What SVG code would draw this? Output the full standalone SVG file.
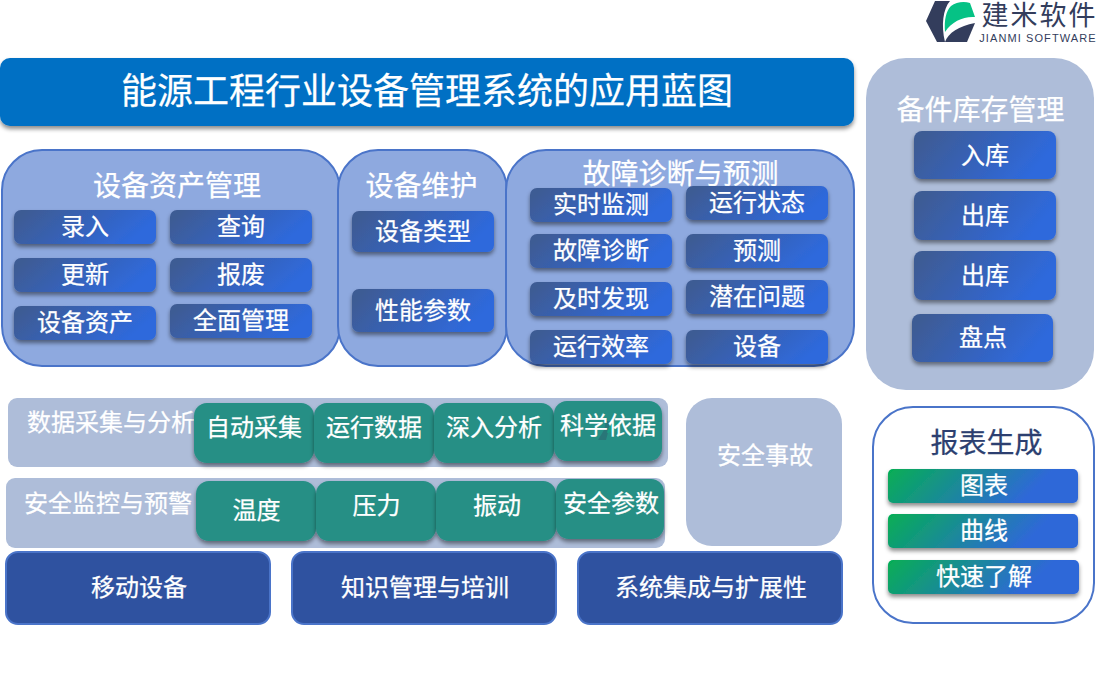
<svg xmlns="http://www.w3.org/2000/svg" width="1100" height="700" viewBox="0 0 1100 700">
<defs>
<linearGradient id="gb" x1="0" y1="0" x2="1" y2="0.28"><stop offset="0.08" stop-color="#3e5b94"/><stop offset="1" stop-color="#2e69dc"/></linearGradient>
<linearGradient id="gg" x1="0" y1="0" x2="1" y2="0.18"><stop offset="0" stop-color="#05ae54"/><stop offset="0.85" stop-color="#2f68d8"/></linearGradient>
<filter id="sh" x="-20%" y="-20%" width="140%" height="150%"><feDropShadow dx="0" dy="3" stdDeviation="2" flood-color="#000" flood-opacity="0.45"/></filter>
</defs>
<style>
text{font-family:"Liberation Serif","Noto Sans CJK SC",serif;text-anchor:middle;fill:#fff;font-size:24px;stroke:#fff;stroke-width:.25px}
.h{font-size:28px}
.p{fill:#8ea9df;stroke:#4a74c9;stroke-width:2}
.b{fill:url(#gb);filter:url(#sh)}
.g{fill:url(#gg);filter:url(#sh)}
.t{fill:#258f85;filter:url(#sh)}
.l{fill:#aebdd9}
.d{fill:#2f52a0;stroke:#4a74c9;stroke-width:2}
.lg{fill:#333d5c}
</style>
<g id="logo"><path class="lg" d="M935 1H950C943 9 941 25 945 42H937L926 21Z"/><path d="M945 32C944 20 946 11 951 6C956 2 964 1 970 3L975 17C964 16 952 21 945 32Z" fill="#05c285"/><path class="lg" d="M945 42C948 33 959 26 975 23L967 42Z"/>
<text x="1039.500" y="24.500" style="font-family:'Liberation Sans','Noto Sans CJK SC',sans-serif;font-size:27px;fill:#333d5c;stroke:none;letter-spacing:2px">建米软件</text>
<text x="1038" y="42" style="font-family:'Liberation Sans',sans-serif;font-size:11px;fill:#333d5c;stroke:none;letter-spacing:1.100px">JIANMI SOFTWARE</text></g>
<g id="title"><rect x="0" y="58" width="854" height="68" rx="10" fill="#0470c4" filter="url(#sh)"/><text x="427" y="104" style="font-size:36px">能源工程行业设备管理系统的应用蓝图</text></g>
<g id="asset"><rect class="p" x="2" y="150" width="338" height="216" rx="40"/><text class="h" x="177" y="196">设备资产管理</text>
<rect class="b" x="14" y="210" width="142" height="34" rx="7"/><text x="85" y="235">录入</text>
<rect class="b" x="170" y="210" width="142" height="34" rx="7"/><text x="241" y="235">查询</text>
<rect class="b" x="14" y="258" width="142" height="34" rx="7"/><text x="85" y="283">更新</text>
<rect class="b" x="170" y="258" width="142" height="34" rx="7"/><text x="241" y="283">报废</text>
<rect class="b" x="14" y="306" width="142" height="34" rx="7"/><text x="85" y="331">设备资产</text>
<rect class="b" x="170" y="304" width="142" height="34" rx="7"/><text x="241" y="329">全面管理</text></g>
<g id="maint"><rect class="p" x="338" y="150" width="169" height="216" rx="40"/><text class="h" x="421.500" y="196">设备维护</text>
<rect class="b" x="352" y="211" width="142" height="41" rx="7"/><text x="423" y="240">设备类型</text>
<rect class="b" x="352" y="289" width="142" height="43" rx="7"/><text x="423" y="319">性能参数</text></g>
<g id="fault"><rect class="p" x="506" y="150" width="348" height="216" rx="40"/><text class="h" x="680.500" y="184">故障诊断与预测</text>
<rect class="b" x="530" y="188" width="142" height="34" rx="7"/><text x="601" y="213">实时监测</text>
<rect class="b" x="686" y="186" width="142" height="34" rx="7"/><text x="757" y="211">运行状态</text>
<rect class="b" x="530" y="234" width="142" height="34" rx="7"/><text x="601" y="259">故障诊断</text>
<rect class="b" x="686" y="234" width="142" height="34" rx="7"/><text x="757" y="259">预测</text>
<rect class="b" x="530" y="282" width="142" height="34" rx="7"/><text x="601" y="307">及时发现</text>
<rect class="b" x="686" y="280" width="142" height="34" rx="7"/><text x="757" y="305">潜在问题</text>
<rect class="b" x="530" y="330" width="142" height="34" rx="7"/><text x="601" y="355">运行效率</text>
<rect class="b" x="686" y="330" width="142" height="34" rx="7"/><text x="757" y="355">设备</text></g>
<g id="stock"><rect class="l" x="866" y="58" width="228" height="332" rx="40"/><text class="h" x="980.500" y="120">备件库存管理</text>
<rect class="b" x="914" y="131" width="142" height="48" rx="8"/><text x="985" y="164">入库</text>
<rect class="b" x="914" y="191" width="142" height="49" rx="8"/><text x="985" y="224">出库</text>
<rect class="b" x="914" y="251" width="142" height="49" rx="8"/><text x="985" y="284">出库</text>
<rect class="b" x="912" y="314" width="141" height="48" rx="8"/><text x="983" y="346">盘点</text></g>
<g id="data"><rect class="l" x="8" y="398" width="660" height="69" rx="9"/><text x="111" y="431">数据采集与分析</text>
<rect class="t" x="194" y="403" width="120" height="60" rx="13"/><text x="254" y="436">自动采集</text>
<rect class="t" x="314" y="403" width="120" height="60" rx="13"/><text x="374" y="436">运行数据</text>
<rect class="t" x="434" y="403" width="120" height="60" rx="13"/><text x="494" y="436">深入分析</text>
<rect class="t" x="554" y="401" width="108" height="60" rx="13"/>
<g id="watermark" opacity="0.3"><path class="lg" d="M606 421H611L606 440H598L604 430Z"/><path d="M607 433C608 427 612 422 620 421L615 431Z" fill="#05c285"/></g>
<text x="608" y="434">科学依据</text></g>
<g id="safe"><rect class="l" x="6" y="478" width="659" height="70" rx="9"/><text x="108" y="512">安全监控与预警</text>
<rect class="t" x="196" y="481" width="120" height="60" rx="13"/><text x="256.500" y="519">温度</text>
<rect class="t" x="316" y="481" width="120" height="60" rx="13"/><text x="376.500" y="514">压力</text>
<rect class="t" x="436" y="481" width="120" height="60" rx="13"/><text x="497" y="514">振动</text>
<rect class="t" x="556" y="479" width="108" height="60" rx="13"/><text x="611" y="512">安全参数</text></g>
<g id="incident"><rect class="l" x="686" y="398" width="156" height="148" rx="26"/><text x="765" y="464">安全事故</text></g>
<g id="mobile"><rect class="d" x="6" y="552" width="264" height="72" rx="12"/><text x="139" y="596">移动设备</text></g>
<g id="know"><rect class="d" x="292" y="552" width="264" height="72" rx="12"/><text x="425" y="596">知识管理与培训</text></g>
<g id="integ"><rect class="d" x="578" y="552" width="264" height="72" rx="12"/><text x="711" y="596">系统集成与扩展性</text></g>
<g id="report"><rect x="873" y="407" width="221" height="216" rx="40" fill="#fff" stroke="#4a74c9" stroke-width="2"/><text class="h" x="986.500" y="453" style="fill:#2c3f70;stroke:#2c3f70">报表生成</text>
<rect class="g" x="888" y="469" width="190" height="34" rx="5"/><text x="984" y="494">图表</text>
<rect class="g" x="888" y="514" width="190" height="34" rx="5"/><text x="984" y="539">曲线</text>
<rect class="g" x="888" y="560" width="191" height="34" rx="5"/><text x="984" y="585">快速了解</text></g>
</svg>
